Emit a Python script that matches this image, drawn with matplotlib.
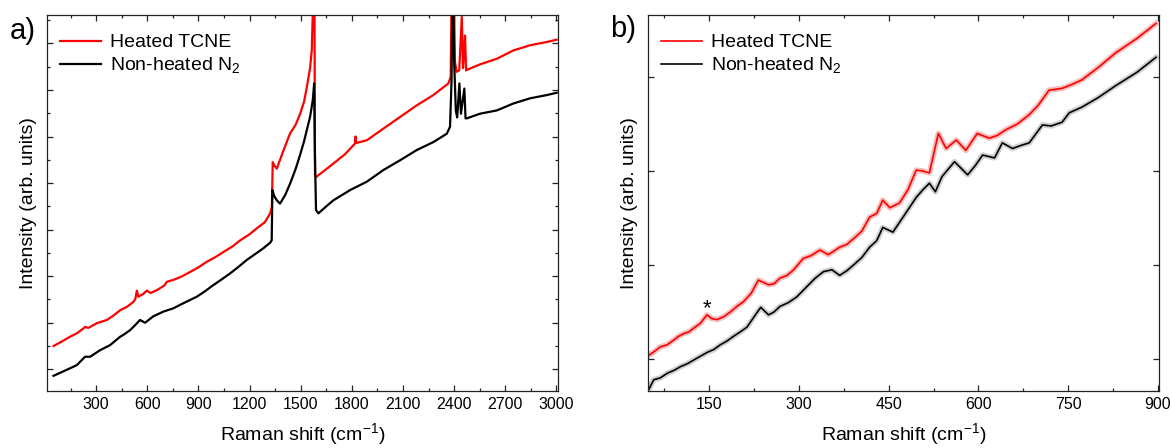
import matplotlib
matplotlib.use("Agg")
import matplotlib.pyplot as plt
from matplotlib.ticker import MultipleLocator

plt.rcParams['font.family'] = ['Liberation Sans', 'DejaVu Sans']
plt.rcParams['mathtext.fontset'] = 'custom'
plt.rcParams['mathtext.rm'] = 'Liberation Sans'
plt.rcParams['mathtext.it'] = 'Liberation Sans:italic'

# ---- panel a) full spectra (arb. units) ----
shift_a_tcne = [50, 100, 147, 190, 226, 235, 255, 304, 363, 400, 441, 480, 519, 530, 539,
                548, 577, 597, 620, 656, 700, 715, 753, 800, 851, 900, 949, 1000, 1047,
                1100, 1145, 1200, 1243, 1290, 1321, 1331, 1336, 1345, 1360, 1400, 1438,
                1470, 1496, 1520, 1536, 1555, 1565, 1571, 1576, 1580, 1584, 1590, 1640,
                1692, 1760, 1819, 1822, 1825, 1888, 1985, 2083, 2181, 2278, 2366, 2380,
                2388, 2395, 2405, 2415, 2430, 2445, 2452, 2464, 2470, 2474, 2552, 2650,
                2748, 2845, 2943, 3002]
int_a_tcne = [1.50, 1.60, 1.70, 1.78, 1.88, 1.91, 1.89, 1.99, 2.06, 2.15, 2.27, 2.34, 2.45,
              2.51, 2.69, 2.56, 2.62, 2.69, 2.64, 2.70, 2.80, 2.88, 2.92, 2.99, 3.09, 3.19,
              3.31, 3.41, 3.52, 3.64, 3.77, 3.90, 4.03, 4.16, 4.35, 4.49, 5.45, 5.38, 5.31,
              5.71, 6.07, 6.25, 6.48, 6.75, 7.06, 7.47, 7.85, 8.65, 10.0, 10.0, 5.17, 5.13,
              5.27, 5.42, 5.62, 5.85, 6.00, 5.86, 5.92, 6.17, 6.42, 6.67, 6.89, 7.14, 7.28,
              10.0, 10.0, 7.60, 7.39, 7.42, 8.57, 7.47, 8.17, 7.42, 7.43, 7.55, 7.67, 7.85,
              7.96, 8.03, 8.08]

shift_a_n2 = [50, 128, 187, 235, 265, 323, 382, 441, 460, 499, 529, 558, 587, 636, 695,
              753, 812, 891, 940, 988, 1040, 1086, 1135, 1184, 1235, 1281, 1321, 1330,
              1334, 1345, 1360, 1379, 1410, 1438, 1470, 1496, 1520, 1536, 1555, 1571,
              1579, 1583, 1590, 1604, 1650, 1692, 1790, 1888, 1985, 2083, 2181, 2278,
              2357, 2376, 2385, 2392, 2400, 2410, 2418, 2431, 2440, 2460, 2467, 2474,
              2552, 2650, 2748, 2845, 2943, 3002]
int_a_n2 = [0.86, 0.99, 1.09, 1.27, 1.27, 1.41, 1.52, 1.70, 1.74, 1.84, 1.95, 2.06, 2.00,
            2.14, 2.24, 2.31, 2.42, 2.56, 2.68, 2.81, 2.94, 3.06, 3.20, 3.35, 3.48, 3.60,
            3.72, 3.77, 4.85, 4.72, 4.63, 4.56, 4.75, 4.99, 5.30, 5.60, 5.90, 6.14, 6.42,
            6.78, 7.14, 5.71, 4.42, 4.35, 4.50, 4.63, 4.85, 5.03, 5.28, 5.49, 5.71, 5.88,
            6.06, 6.21, 7.21, 10.0, 7.64, 6.56, 6.41, 7.14, 6.49, 7.03, 6.39, 6.39, 6.49,
            6.56, 6.71, 6.82, 6.89, 6.94]

# ---- panel b) low-wavenumber region ----
shift_b_tcne = [49, 58, 68, 79, 90, 98, 107, 116, 124, 135, 146, 154, 163, 174, 185, 196,
                207, 220, 232, 249, 258, 268, 280, 291, 307, 320, 335, 349, 368, 380, 391,
                405, 418, 430, 440, 452, 468, 482, 496, 507, 518, 533, 546, 563, 579, 598,
                618, 632, 646, 665, 685, 700, 718, 740, 756, 773, 800, 830, 865, 897]
int_b_tcne = [1.04, 1.08, 1.13, 1.15, 1.20, 1.24, 1.27, 1.29, 1.33, 1.38, 1.47, 1.43, 1.42,
              1.45, 1.50, 1.56, 1.61, 1.70, 1.84, 1.79, 1.80, 1.86, 1.89, 1.95, 2.07, 2.10,
              2.16, 2.11, 2.19, 2.22, 2.28, 2.36, 2.51, 2.55, 2.69, 2.61, 2.66, 2.80, 3.01,
              3.00, 2.98, 3.40, 3.24, 3.33, 3.22, 3.40, 3.35, 3.38, 3.44, 3.50, 3.60, 3.70,
              3.86, 3.88, 3.92, 3.97, 4.10, 4.26, 4.41, 4.57]

shift_b_n2 = [49, 57, 68, 80, 91, 102, 113, 124, 135, 146, 157, 168, 179, 190, 202, 213,
              227, 236, 249, 258, 268, 282, 296, 313, 327, 341, 355, 368, 380, 391, 405,
              418, 430, 440, 457, 475, 496, 507, 518, 528, 539, 560, 582, 595, 607, 627,
              640, 657, 670, 685, 707, 722, 740, 752, 773, 800, 830, 865, 897]
int_b_n2 = [0.68, 0.78, 0.80, 0.85, 0.88, 0.92, 0.95, 0.99, 1.03, 1.07, 1.10, 1.15, 1.19,
            1.24, 1.29, 1.34, 1.47, 1.55, 1.47, 1.50, 1.56, 1.60, 1.66, 1.77, 1.86, 1.93,
            1.95, 1.89, 1.94, 2.00, 2.08, 2.19, 2.26, 2.40, 2.35, 2.52, 2.72, 2.80, 2.87,
            2.78, 2.94, 3.10, 2.96, 3.06, 3.17, 3.14, 3.30, 3.24, 3.27, 3.30, 3.49, 3.48,
            3.52, 3.62, 3.68, 3.78, 3.91, 4.05, 4.21]

labels = ['Heated TCNE', 'Non-heated N$_2$']
RED = '#ff0000'
BLACK = '#000000'

fig = plt.figure(figsize=(11.72, 4.48), dpi=100)
ax_a = fig.add_axes([0.0404, 0.1272, 0.4358, 0.8393])
ax_b = fig.add_axes([0.5532, 0.1272, 0.4357, 0.8393])


def style_axes(ax):
    for s in ax.spines.values():
        s.set_linewidth(0.9)
        s.set_color('#222222')
    ax.tick_params(which='both', direction='in', top=True, right=True,
                   color='#222222', width=0.9)
    ax.tick_params(which='major', length=4.5, labelsize=11.5, pad=4)
    ax.tick_params(which='minor', length=2.5)
    ax.tick_params(axis='y', labelleft=False)
    ax.set_xlabel('Raman shift (cm$^{-1}$)', fontsize=14, labelpad=7)
    ax.set_ylabel('Intensity (arb. units)', fontsize=14)


# a)
ax_a.plot(shift_a_tcne, int_a_tcne, color=RED, lw=1.6, label=labels[0])
ax_a.plot(shift_a_n2, int_a_n2, color=BLACK, lw=1.6, label=labels[1])
ax_a.set_xlim(14, 3010)
ax_a.set_ylim(0.534, 8.61)
ax_a.xaxis.set_major_locator(MultipleLocator(300))
ax_a.xaxis.set_minor_locator(MultipleLocator(150))
ax_a.yaxis.set_major_locator(MultipleLocator(1))
ax_a.yaxis.set_minor_locator(MultipleLocator(0.5))
style_axes(ax_a)
ax_a.set_xticks(range(300, 3001, 300))

# b)
ax_b.plot(shift_b_tcne, int_b_tcne, color='#f5a3a3', lw=4, alpha=0.7)
ax_b.plot(shift_b_n2, int_b_n2, color='#bdbdbd', lw=4, alpha=0.7)
ax_b.plot(shift_b_tcne, int_b_tcne, color=RED, lw=1.2, label=labels[0])
ax_b.plot(shift_b_n2, int_b_n2, color=BLACK, lw=1.2, label=labels[1])
ax_b.set_xlim(48, 902)
ax_b.set_ylim(0.66, 4.66)
ax_b.xaxis.set_major_locator(MultipleLocator(150))
ax_b.xaxis.set_minor_locator(MultipleLocator(75))
ax_b.yaxis.set_major_locator(MultipleLocator(1))
style_axes(ax_b)
ax_b.set_xticks(range(150, 901, 150))
ax_b.text(146, 1.54, '*', fontsize=16, ha='center', va='center')

for ax in (ax_a, ax_b):
    ax.legend(loc='upper left', bbox_to_anchor=(0.024, 0.95), frameon=False,
              fontsize=14, handlelength=2.15, handletextpad=0.42,
              labelspacing=0.2, borderpad=0, borderaxespad=0)
    ax.yaxis.set_label_coords(-0.02, 0.5)

fig.text(0.019, 0.93, 'a)', fontsize=21, va='center', ha='center')
fig.text(0.532, 0.935, 'b)', fontsize=21, va='center', ha='center')

fig.savefig('out.png', dpi=100)
